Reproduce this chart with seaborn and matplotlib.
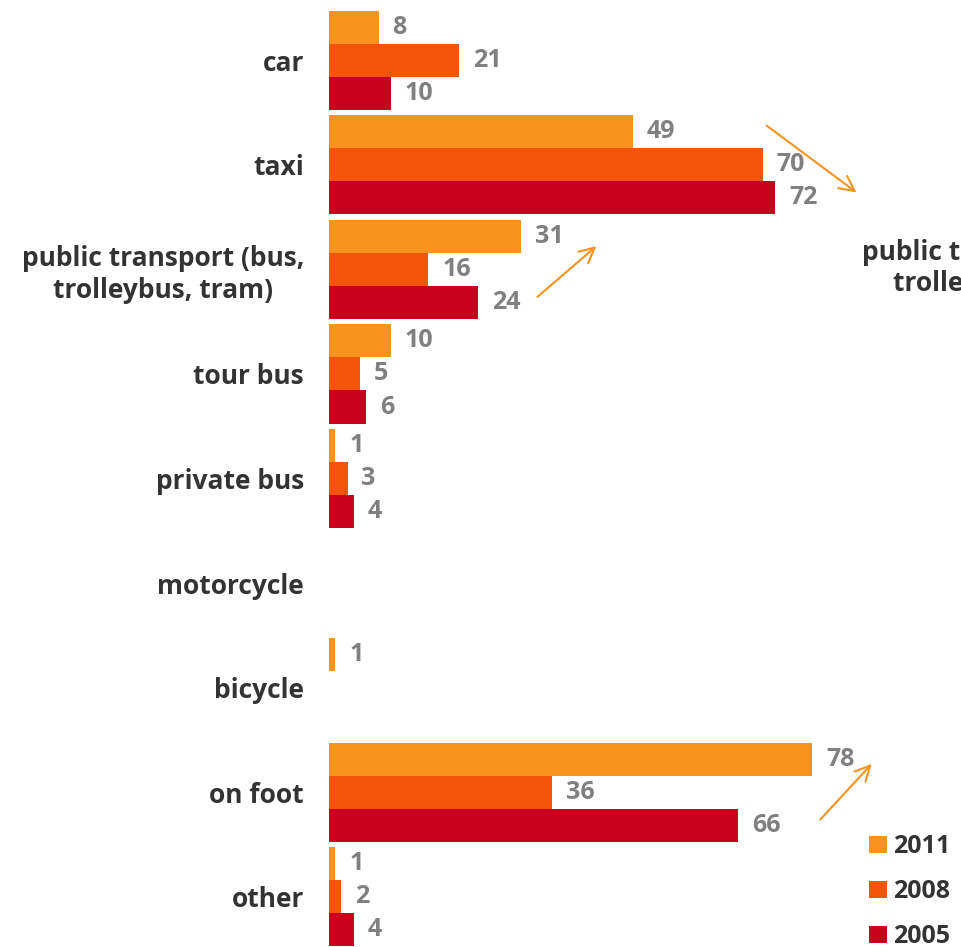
import matplotlib
matplotlib.use("Agg")
import matplotlib.pyplot as plt
import seaborn as sns
import pandas as pd

categories = ["car", "taxi", "public transport (bus,\ntrolleybus, tram)", "tour bus",
              "private bus", "motorcycle", "bicycle", "on foot", "other"]
years = ["2011", "2008", "2005"]
values_2011 = [8, 49, 31, 10, 1, 0, 1, 78, 1]
values_2008 = [21, 70, 16, 5, 3, 0, 0, 36, 2]
values_2005 = [10, 72, 24, 6, 4, 0, 0, 66, 4]
colors = ["#F7931E", "#F0550A", "#C8001E"]

rows = []
for year, vals in zip(years, [values_2011, values_2008, values_2005]):
    for cat, v in zip(categories, vals):
        rows.append({"mode": cat, "year": year, "value": v})
df = pd.DataFrame(rows)

sns.set_theme(style="white")
plt.rcParams["font.family"] = ["Open Sans", "DejaVu Sans"]

W, H = 961, 947
fig = plt.figure(figsize=(W / 100, H / 100), dpi=100)
ax = fig.add_axes([329 / W, -2 / H, (W - 329) / W, (949 - 8) / H])

sns.barplot(data=df, y="mode", x="value", hue="year", hue_order=years,
            palette=colors, orient="h", width=0.95, saturation=1,
            linewidth=0, ax=ax)

ax.set_xlim(0, 102)
ax.set_ylim(len(categories) - 0.5, -0.5)
ax.set_xlabel("")
ax.set_ylabel("")
ax.set_xticks([])
for s in ax.spines.values():
    s.set_visible(False)
ax.tick_params(axis="y", length=0, pad=18)
for lab in ax.get_yticklabels():
    lab.set_fontsize(19)
    lab.set_fontweight("bold")
    lab.set_color("#333333")
    lab.set_multialignment("center")

# value labels next to each non-zero bar
for cont in ax.containers:
    labels = [f"{v:g}" if v > 0 else "" for v in cont.datavalues]
    ax.bar_label(cont, labels=labels, padding=10, fontsize=18,
                 fontweight="bold", color="#808080")

# trend arrows
arrow_kw = dict(arrowstyle="->,head_length=0.9,head_width=0.45", color="#F7931E", lw=1.5)
ax.annotate("", xy=(85.5, 1.28), xytext=(70.3, 0.61), arrowprops=arrow_kw, annotation_clip=False)
ax.annotate("", xy=(43.5, 1.76), xytext=(33.3, 2.28), arrowprops=arrow_kw, annotation_clip=False)
ax.annotate("", xy=(87.9, 6.71), xytext=(79.0, 7.28), arrowprops=arrow_kw, annotation_clip=False)

fig.text(862 / W, 1 - 268 / H, "public transport (bus,\ntrolleybus, tram)",
         ha="left", va="center", multialignment="center", fontsize=19,
         fontweight="bold", color="#333333")

sns.move_legend(ax, "upper left", bbox_to_anchor=(869 / W, 1 - 834 / H),
                bbox_transform=fig.transFigure, frameon=False, title=None,
                handlelength=0.7, handleheight=0.7, handletextpad=0.25,
                labelspacing=0.8, borderaxespad=0, borderpad=0,
                prop={"size": 18, "weight": "bold"})
for t in ax.get_legend().get_texts():
    t.set_color("#333333")

fig.savefig("out.png", dpi=100)
